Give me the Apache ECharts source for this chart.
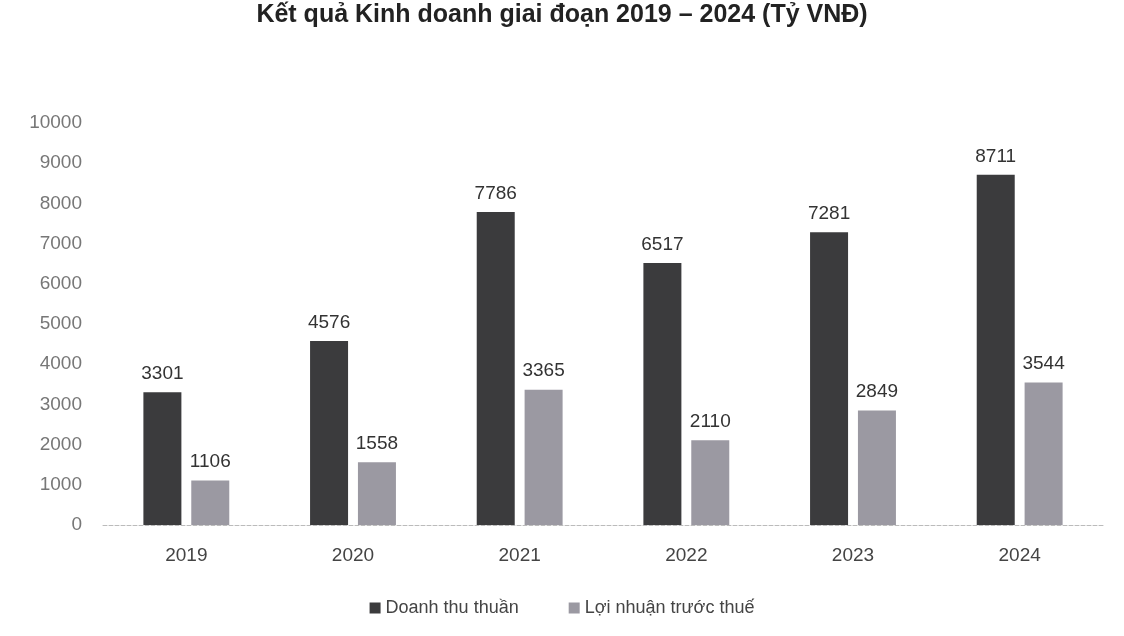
<!DOCTYPE html>
<html>
<head>
<meta charset="utf-8">
<script src="https://cdn.jsdelivr.net/npm/echarts@6/dist/echarts.min.js"></script>
<style>
  html, body { margin: 0; padding: 0; background: #fff; }
  #chart { width: 1124px; height: 636px; }
</style>
</head>
<body>
<div id="chart"></div>
<script>
const years = ['2019', '2020', '2021', '2022', '2023', '2024'];
const doanhThu = [3301, 4576, 7786, 6517, 7281, 8711];
const loiNhuan = [1106, 1558, 3365, 2110, 2849, 3544];

const chart = echarts.init(document.getElementById('chart'));
const labelStyle = {
	show: true,
	position: 'top',
	distance: 9,
	color: '#333',
	fontSize: 19,
	fontFamily: 'Liberation Sans, Arial'
};

chart.setOption({
	animation: false,
	textStyle: { fontFamily: 'Liberation Sans, Arial' },
	title: {
		text: 'Kết quả Kinh doanh giai đoạn 2019 – 2024 (Tỷ VNĐ)',
		left: 'center',
		top: -2,
		textStyle: { fontSize: 25, fontWeight: 'bold', color: '#222' }
	},
	legend: {
		bottom: 14,
		left: 'center',
		itemWidth: 11,
		itemHeight: 11,
		itemGap: 50,
		icon: 'rect',
		textStyle: { fontSize: 18, color: '#444' }
	},
	grid: { left: 103, right: 21, top: 123, bottom: 111 },
	xAxis: {
		type: 'category',
		data: years,
		axisLine: { lineStyle: { color: '#bbb', type: 'dashed' } },
		axisTick: { show: false },
		axisLabel: { fontSize: 19, color: '#444', margin: 21 }
	},
	yAxis: {
		type: 'value',
		min: 0,
		max: 10000,
		interval: 1000,
		splitLine: { show: false },
		axisLabel: {
			fontSize: 19,
			color: '#777',
			margin: 21,
			formatter: (v) => String(v)
		}
	},
	series: [
		{
			name: 'Doanh thu thuần',
			type: 'bar',
			data: doanhThu,
			barWidth: 38,
			barGap: '26%',
			itemStyle: { color: '#3b3b3d' },
			label: labelStyle
		},
		{
			name: 'Lợi nhuận trước thuế',
			type: 'bar',
			data: loiNhuan,
			barWidth: 38,
			itemStyle: { color: '#9b99a2' },
			label: labelStyle
		}
	]
});
</script>
</body>
</html>
